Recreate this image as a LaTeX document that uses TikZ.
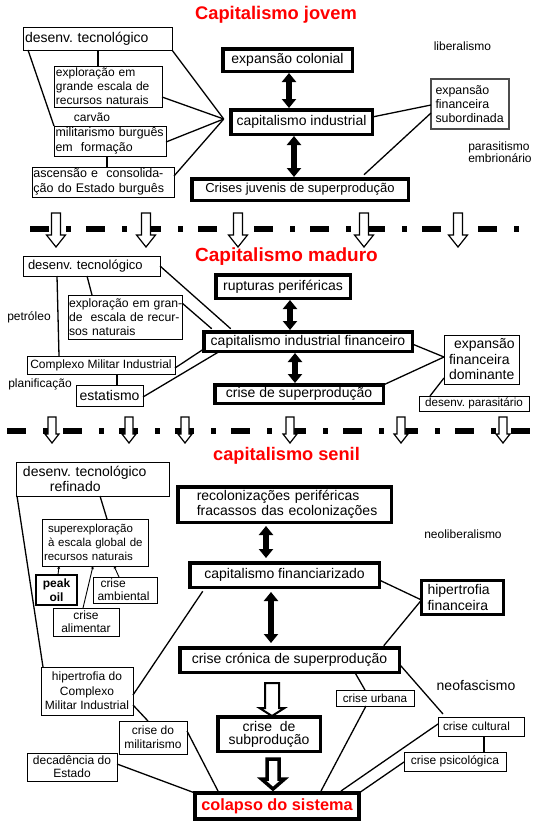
\documentclass[tikz,border=0pt]{standalone}
\usepackage{fontspec}
\setmainfont{Liberation Sans}
\usetikzlibrary{arrows.meta}
\newcommand\myfs[2]{\fontsize{#1pt}{#2pt}\selectfont}
\newcommand\harrow[7]{%
  \filldraw[fill=white,draw=black,line width=#7,line join=miter]
    ({#1-#5/2},#2) -- ({#1+#5/2},#2) -- ({#1+#5/2},#3) -- ({#1+#6/2},#3) --
    (#1,#4) -- ({#1-#6/2},#3) -- ({#1-#5/2},#3) -- cycle;}
\tikzset{
  bx/.style={draw,line width=1pt,inner sep=0pt,outer sep=0pt,align=center},
  thk/.style={draw,line width=3.5pt,inner sep=0pt,outer sep=0pt,align=center},
  lbl/.style={inner sep=0pt,align=left},
  conn/.style={line width=1.3pt},
  tiny/.style={line width=0.9pt,-{Stealth[length=3pt,width=3pt]}},
  dbl/.style={line width=6pt,<->,>={Triangle[length=9pt,width=14pt]}},
  dashln/.style={line width=5.5pt,dash pattern=on 19pt off 17pt on 5pt off 15pt},
  ttl/.style={text=red,inner sep=0pt}
}
\begin{document}
\frenchspacing
\begin{tikzpicture}[x=1pt,y=-1pt]
\fill[white] (0,0) rectangle (544,831);
\useasboundingbox (0,0) rectangle (544,831);

% separators
\draw[dashln] (30,229) -- (519,229);
\draw[dashln] (7,431) -- (530,431);
\foreach \ax in {56,146,238,364,458} {\harrow{\ax}{213}{235}{247}{9}{19}{1.2pt}}
\foreach \ax in {52,129,185,290,401,503} {\harrow{\ax}{417}{434}{443}{8}{14}{1.2pt}}

% titles
\node[ttl,font=\bfseries\myfs{18.3}{20}] (t1) at (276,15) {Capitalismo jovem};
\node[ttl,font=\bfseries\myfs{19}{21}] (t2) at (286.5,257) {Capitalismo maduro};
\node[ttl,font=\bfseries\myfs{18.2}{20}] (t3) at (286.5,456) {capitalismo senil};

% ---------- section 1
\node[bx,minimum height=23pt,text width=145pt,inner xsep=2pt,align=left,font=\myfs{14}{16}] (dt1) at (97.5,38.5) {\mbox{desenv. tecnológico}};
\node[bx,minimum height=41pt,text width=104pt,inner xsep=2pt,align=left,font=\myfs{12}{13.8}] (ex1) at (108,86.5) {\mbox{exploração em}\\\mbox{grande escala de}\\\mbox{recursos naturais}};
\node[lbl,font=\myfs{12}{14}] (carv) at (92,117) {carvão};
\node[bx,minimum height=30pt,text width=109pt,inner xsep=1.5pt,align=left,font=\myfs{12.4}{14.5}] (mil1) at (110,141) {\mbox{militarismo burguês}\\\mbox{em\ \ formação}};
\node[bx,minimum height=30pt,text width=139pt,inner xsep=1.5pt,align=left,font=\myfs{12.5}{14.5}] (asc1) at (103,182) {\mbox{ascensão e\ \ consolida-}\\\mbox{ção do Estado burguês}};
\node[thk,minimum width=129.5pt,minimum height=22.5pt,font=\myfs{14}{16}] (ec1) at (287.5,60) {expansão colonial};
\node[thk,minimum width=141.5pt,minimum height=24.5pt,font=\myfs{14}{16}] (ci1) at (301.5,122) {capitalismo industrial};
\node[thk,minimum width=216.5pt,minimum height=21.5pt,font=\myfs{13}{15}] (cj1) at (300,189.5) {Crises juvenis de superprodução};
\node[bx,draw=black!70,line width=2pt,minimum height=50pt,text width=69pt,inner xsep=4.5pt,align=left,font=\myfs{12.4}{14}] (ef1) at (470,104) {\mbox{expansão}\\\mbox{financeira}\\\mbox{subordinada}};
\node[lbl,font=\myfs{12}{14}] (lib) at (462.5,46) {liberalismo};
\node[lbl,font=\myfs{12}{12}] (par) at (500,152) {parasitismo\\embrionário};

\coordinate (cv1) at ([xshift=-7pt,yshift=3pt]ci1.west);
\draw[conn] ([xshift=75pt]dt1.south west) -- ([xshift=44pt]ex1.north west);
\draw[conn] ([xshift=5pt]dt1.south west) -- (mil1.north west);
\draw[conn] ([xshift=53pt]mil1.south west) -- ([xshift=75pt]asc1.north west);
\draw[conn] (dt1.south east) -- (cv1);
\draw[conn] ([yshift=-31pt]ex1.north east) -- (cv1);
\draw[conn] ([yshift=-1pt]mil1.east) -- (cv1);
\draw[conn] ([yshift=6pt]asc1.east) -- (cv1);
\draw[conn] ([yshift=5pt]ci1.east) -- ([yshift=-1pt]ef1.west);
\draw[conn] ([xshift=64pt,yshift=4pt]cj1.north) -- ([yshift=-9pt]ef1.west);
\draw[dbl] ([xshift=1.5pt,yshift=-1.75pt]ec1.south) -- ([xshift=-12.5pt,yshift=1.75pt]ci1.north);
\draw[dbl] ([xshift=-7.5pt,yshift=-1.75pt]ci1.south) -- ([xshift=-6pt,yshift=1.75pt]cj1.north);

% ---------- section 2
\node[bx,minimum height=20pt,text width=127pt,inner xsep=5pt,align=left,font=\myfs{13}{15}] (dt2) at (91.5,266) {\mbox{desenv. tecnológico}};
\node[bx,minimum height=44pt,text width=112pt,inner xsep=1pt,align=left,font=\myfs{12.2}{14.3}] (ex2) at (125,317) {\mbox{exploração em gran-}\\\mbox{de\ \ escala de recur-}\\\mbox{sos naturais}};
\node[lbl,font=\myfs{12}{14}] (pet) at (29,317) {petróleo};
\node[bx,minimum width=148pt,minimum height=18pt,font=\myfs{12}{14}] (cmi) at (101,365) {Complexo Militar Industrial};
\node[lbl,font=\myfs{12}{14}] (plan) at (40,384) {planificação};
\node[bx,minimum width=67pt,minimum height=21pt,font=\myfs{14}{16}] (est) at (109.5,395.5) {estatismo};
\node[thk,minimum width=134.5pt,minimum height=23.5pt,font=\myfs{14}{16}] (rup) at (283,286.5) {rupturas periféricas};
\node[thk,minimum width=208.5pt,minimum height=19.5pt,font=\myfs{14}{16}] (cif) at (308,341.5) {capitalismo industrial financeiro};
\node[thk,minimum width=168.5pt,minimum height=18.5pt,font=\myfs{14}{16}] (csp) at (299,394) {crise de superprodução};
\node[bx,minimum height=49pt,text width=65pt,inner xsep=5pt,align=left,font=\myfs{14}{15.5}] (efd) at (481.5,359.5) {\mbox{\hspace*{5pt}expansão}\\\mbox{financeira}\\\mbox{dominante}};
\node[bx,minimum width=110pt,minimum height=15pt,font=\myfs{11.7}{13}] (dpar) at (474,403.5) {desenv. parasitário};

\draw[conn] ([xshift=34pt]dt2.south west) -- ([xshift=32pt]cmi.north west);
\draw[conn] ([xshift=64pt]dt2.south west) -- ([xshift=24pt]ex2.north west);
\draw[conn] (dt2.east) -- ([xshift=27pt,yshift=3pt]cif.north west);
\draw[conn] ([yshift=-8pt]ex2.north east) -- ([xshift=8pt,yshift=3pt]cif.north west);
\draw[conn] ([yshift=-3pt]cmi.east) -- ([yshift=-7.5pt]cif.west);
\draw[conn] ([yshift=-1.5pt]est.east) -- ([xshift=16pt]cif.south west);
\draw[conn] ([xshift=90pt]cmi.south west) -- ([xshift=41pt]est.north west);
\draw[conn] ([yshift=-2.5pt]cif.east) -- ([yshift=2.5pt]efd.west);
\draw[conn] ([yshift=9pt]csp.east) -- ([yshift=2.5pt]efd.west);
\draw[conn] ([yshift=-18.5pt]efd.west) -- ([xshift=11pt]dpar.north west);
\draw[dbl] ([xshift=7pt,yshift=-1.75pt]rup.south) -- ([xshift=-18pt,yshift=1.75pt]cif.north);
\draw[dbl] ([xshift=-13pt,yshift=-1.75pt]cif.south) -- ([xshift=-4pt,yshift=1.75pt]csp.north);

% ---------- section 3
\node[bx,minimum height=34pt,text width=139pt,inner xsep=7pt,align=left,font=\myfs{14}{15.5}] (dtr) at (92.5,479) {\mbox{desenv. tecnológico}\\\mbox{\hspace*{27pt}refinado}};
\node[bx,minimum height=47pt,text width=102pt,inner xsep=2pt,align=left,font=\myfs{11.5}{14}] (sup) at (95,542.5) {\mbox{\hspace*{4pt}superexploração}\\\mbox{\hspace*{4pt}à escala global de}\\\mbox{recursos naturais}};
\node[bx,line width=2pt,minimum width=41pt,minimum height=30pt,font=\bfseries\myfs{12}{14}] (po) at (56.5,590) {peak\\oil};
\node[bx,minimum height=26pt,text width=55pt,inner xsep=4.5pt,align=left,font=\myfs{12}{13}] (cam) at (125,590) {\mbox{\hspace*{3pt}crise}\\\mbox{ambiental}};
\node[bx,minimum width=66pt,minimum height=28pt,font=\myfs{12}{13}] (cal) at (86,622) {crise\\alimentar};
\node[thk,minimum height=35.5pt,text width=175.5pt,inner xsep=19pt,align=left,font=\myfs{14}{15}] (rec) at (284.5,504.5) {\mbox{recolonizações periféricas}\\\mbox{fracassos das ecolonizações}};
\node[thk,minimum width=189.5pt,minimum height=24.5pt,font=\myfs{14}{16}] (cfz) at (284.5,575) {capitalismo financiarizado};
\node[thk,line width=3pt,minimum height=34pt,text width=70pt,inner xsep=6pt,align=left,font=\myfs{14}{16}] (hfin) at (462.5,597.5) {\mbox{hipertrofia}\\\mbox{financeira}};
\node[lbl,font=\myfs{12}{14}] (neol) at (463,534) {neoliberalismo};
\node[bx,minimum width=92pt,minimum height=48pt,font=\myfs{12}{14.3}] (hmi) at (87,691) {hipertrofia do\\Complexo\\Militar Industrial};
\node[bx,minimum width=68pt,minimum height=33pt,font=\myfs{12}{14}] (cmil) at (153,737.5) {crise do\\militarismo};
\node[bx,minimum width=90pt,minimum height=28pt,font=\myfs{12}{13}] (dec) at (72,767) {decadência do\\Estado};
\node[thk,minimum width=219.5pt,minimum height=24.5pt,font=\myfs{14}{16}] (ccr) at (289.5,660) {crise crónica de superprodução};
\node[thk,minimum width=102.5pt,minimum height=34.5pt,font=\myfs{14}{13}] (csub) at (269,734) {crise\ \ de\\subprodução};
\node[thk,line width=4pt,minimum width=164pt,minimum height=26pt,text=red,font=\bfseries\myfs{16.3}{18}] (col) at (277,806) {colapso do sistema};
\node[bx,minimum width=78pt,minimum height=16pt,font=\myfs{11.7}{13}] (curb) at (375,698) {crise urbana};
\node[lbl,font=\myfs{14}{16}] (neof) at (476,685) {neofascismo};
\node[bx,minimum height=19pt,text width=76pt,inner xsep=5pt,align=left,font=\myfs{11.8}{13}] (ccult) at (481,726.5) {\mbox{crise cultural}};
\node[bx,minimum width=102pt,minimum height=19pt,font=\myfs{12}{13}] (cpsi) at (455,761.5) {crise psicológica};

\draw[conn] ([xshift=84pt]dtr.south west) -- ([xshift=65pt]sup.north west);
\draw[conn] ([xshift=1pt]dtr.south west) -- ([xshift=2pt]hmi.north west);
\draw[tiny] ([xshift=22pt]po.north west) -- ([xshift=17pt]sup.south west);
\draw[tiny] ([xshift=26pt]cam.north west) -- ([xshift=72pt]sup.south west);
\draw[tiny] ([xshift=30pt]cal.north west) -- ([xshift=51pt]sup.south west);
\draw[conn] ([xshift=13pt,yshift=-4pt]cfz.south west) -- ([yshift=-4pt]hmi.east);
\draw[conn] ([yshift=-14pt]hmi.east) -- ([xshift=29pt]cmil.north west);
\draw[conn] ([yshift=6.5pt]cmil.east) -- ([xshift=23pt,yshift=2pt]col.north west);
\draw[conn] ([yshift=3pt]dec.east) -- (col.north west);
\draw[conn] ([yshift=-5pt]cfz.east) -- ([yshift=-2.5pt]hfin.west);
\draw[conn] ([yshift=-2.5pt]hfin.west) -- ([xshift=204pt,yshift=2pt]ccr.north west);
\draw[conn] ([xshift=175pt]ccr.south west) -- ([xshift=29pt]curb.north west);
\draw[conn] ([xshift=30pt]curb.south west) -- ([xshift=126pt,yshift=2pt]col.north west);
\draw[conn] ([yshift=-4pt]ccr.east) -- ([xshift=5pt,yshift=3pt]ccult.north west);
\draw[conn] ([yshift=2.5pt]ccult.west) -- ([xshift=146pt,yshift=2pt]col.north west);
\draw[conn] ([xshift=46pt]ccult.south west) -- ([xshift=80pt]cpsi.north west);
\draw[conn] ([yshift=-0.5pt]cpsi.west) -- (col.north east);
\draw[dbl] ([xshift=-18.5pt,yshift=-3.75pt]rec.south) -- ([xshift=-18.5pt,yshift=4.75pt]cfz.north);
\draw[dbl] ([xshift=-13.5pt,yshift=-4.75pt]cfz.south) -- ([xshift=-18.5pt,yshift=4.75pt]ccr.north);
\harrow{272}{683}{708}{716}{14}{25}{2pt}
\harrow{273}{759}{779}{789}{12}{23}{3.5pt}
\end{tikzpicture}
\end{document}
